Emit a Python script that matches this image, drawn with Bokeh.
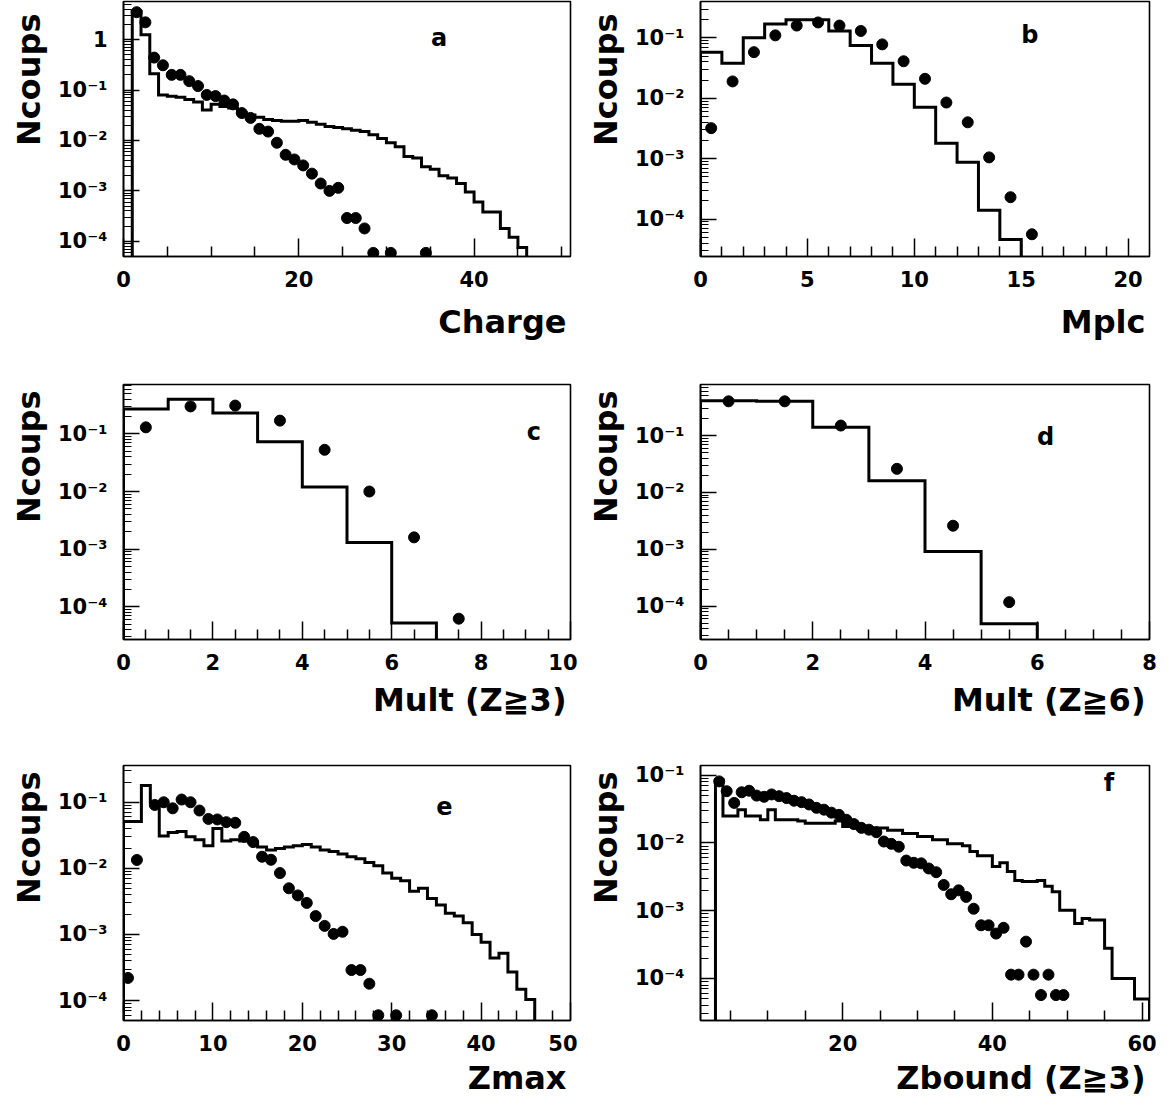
from bokeh.plotting import figure
from bokeh.models import Range1d, FixedTicker, Title, Label
from bokeh.layouts import column, row
from bokeh.embed import file_html
from bokeh.resources import INLINE

# ---------------- data ----------------
# panel a : Charge (bins of width 1 starting at 0)
a_hist = [0, 3.6, 1.25, 0.21, 0.08, 0.075, 0.072, 0.065, 0.058, 0.04, 0.052, 0.047,
          0.044, 0.036, 0.032, 0.029, 0.026, 0.025, 0.024, 0.024, 0.025, 0.023, 0.021,
          0.019, 0.018, 0.017, 0.016, 0.015, 0.013, 0.011, 0.009, 0.0075, 0.0048,
          0.0045, 0.003, 0.0027, 0.002, 0.0018, 0.0014, 0.00095, 0.0006, 0.00038,
          0.00038, 0.00018, 0.00012, 0.000075]
a_pts_x = [1.5, 2.5, 3.5, 4.5, 5.5, 6.5, 7.5, 8.5, 9.5, 10.5, 11.5, 12.5, 13.5, 14.5,
           15.5, 16.5, 17.5, 18.5, 19.5, 20.5, 21.5, 22.5, 23.5, 24.5, 25.5, 26.5,
           27.5, 28.5, 30.5, 34.5]
a_pts_y = [3.5, 2.2, 0.44, 0.31, 0.2, 0.2, 0.15, 0.12, 0.08, 0.076, 0.062, 0.052,
           0.035, 0.028, 0.017, 0.015, 0.009, 0.0052, 0.0042, 0.0032, 0.0022, 0.0014,
           0.001, 0.00115, 0.00029, 0.00029, 0.00018, 5.9e-5, 5.9e-5, 5.9e-5]

# panel b : Mplc
b_hist = [0.058, 0.038, 0.10, 0.17, 0.2, 0.2, 0.13, 0.075, 0.038, 0.017, 0.0071,
          0.0018, 0.00087, 0.00014, 4.6e-5]
b_pts_x = [0.5, 1.5, 2.5, 3.5, 4.5, 5.5, 6.5, 7.5, 8.5, 9.5, 10.5, 11.5, 12.5, 13.5,
           14.5, 15.5]
b_pts_y = [0.0032, 0.019, 0.058, 0.11, 0.16, 0.18, 0.16, 0.13, 0.078, 0.041, 0.021,
           0.0085, 0.004, 0.00105, 0.00023, 5.6e-5]

# panel c : Mult (Z>=3)
c_hist = [0.27, 0.40, 0.23, 0.073, 0.012, 0.0013, 5.2e-5]
c_pts_x = [0.5, 1.5, 2.5, 3.5, 4.5, 5.5, 6.5, 7.5]
c_pts_y = [0.13, 0.30, 0.31, 0.17, 0.053, 0.01, 0.0016, 6.2e-5]

# panel d : Mult (Z>=6)
d_hist = [0.41, 0.40, 0.14, 0.016, 0.00092, 4.9e-5]
d_pts_x = [0.5, 1.5, 2.5, 3.5, 4.5, 5.5]
d_pts_y = [0.40, 0.40, 0.15, 0.026, 0.0026, 0.000118]

# panel e : Zmax
e_hist = [0.051, 0.051, 0.18, 0.1, 0.031, 0.035, 0.036, 0.03, 0.027, 0.022, 0.040,
          0.026, 0.027, 0.026, 0.025, 0.021, 0.019, 0.020, 0.021, 0.022, 0.023, 0.021,
          0.019, 0.018, 0.0165, 0.015, 0.014, 0.0123, 0.011, 0.0085, 0.0071, 0.0065,
          0.0045, 0.005, 0.0035, 0.0028, 0.0021, 0.0019, 0.0015, 0.001, 0.00076,
          0.00044, 0.00052, 0.00027, 0.000148, 0.000104]
e_pts_x = [0.5, 1.5, 3.5, 4.5, 5.5, 6.5, 7.5, 8.5, 9.5, 10.5, 11.5, 12.5, 13.5, 14.5,
           15.5, 16.5, 17.5, 18.5, 19.5, 20.5, 21.5, 22.5, 23.5, 24.5, 25.5, 26.5,
           27.5, 28.5, 30.5, 34.5]
e_pts_y = [0.00022, 0.0134, 0.091, 0.1, 0.081, 0.11, 0.1, 0.075, 0.056, 0.055, 0.05,
           0.049, 0.03, 0.025, 0.015, 0.0135, 0.0085, 0.005, 0.0039, 0.003, 0.0019,
           0.00135, 0.00102, 0.0011, 0.00029, 0.00029, 0.00018, 6e-5, 6e-5, 6e-5]

# panel f : Zbound (Z>=3), bins of width 1 starting at 3
f_hist = [0.086, 0.025, 0.025, 0.031, 0.025, 0.025, 0.022, 0.031, 0.022, 0.022, 0.022,
          0.021, 0.0196, 0.0196, 0.0196, 0.0196, 0.021, 0.0175, 0.0175, 0.0166, 0.0166,
          0.0166, 0.0166, 0.0154, 0.0154, 0.0138, 0.0138, 0.0125, 0.0125, 0.0112,
          0.0112, 0.0097, 0.0097, 0.0091, 0.0075, 0.0065, 0.0065, 0.0045, 0.0051,
          0.0038, 0.0028, 0.0027, 0.0027, 0.0028, 0.0023, 0.0019, 0.00102, 0.00102,
          0.00065, 0.00077, 0.00073, 0.00073, 0.00028, 0.0001, 0.0001, 0.0001, 5e-5,
          5e-5]
f_pts_x = [3.5, 4.5, 5.5, 6.5, 7.5, 8.5, 9.5, 10.5, 11.5, 12.5, 13.5, 14.5, 15.5, 16.5,
           17.5, 18.5, 19.5, 20.5, 21.5, 22.5, 23.5, 24.5, 25.5, 26.5, 27.5, 28.5,
           29.5, 30.5, 31.5, 32.5, 33.5, 34.5, 35.5, 36.5, 37.5, 38.5, 39.5, 40.5,
           41.5, 42.5, 43.5, 44.5, 45.5, 46.5, 47.5, 48.5, 49.5]
f_pts_y = [0.081, 0.058, 0.039, 0.056, 0.059, 0.050, 0.048, 0.052, 0.049, 0.046, 0.042,
           0.040, 0.037, 0.033, 0.031, 0.028, 0.026, 0.022, 0.019, 0.0167, 0.0157,
           0.0144, 0.0105, 0.0097, 0.0088, 0.0055, 0.0051, 0.0050, 0.0042, 0.0037,
           0.0024, 0.00175, 0.0020, 0.0016, 0.00107, 0.00061, 0.00061, 0.00046,
           0.00056, 0.000114, 0.000114, 0.00035, 0.000114, 5.7e-5, 0.000114, 5.7e-5,
           5.7e-5]

y_tick_labels = {1.0: "1", 0.1: "10\u207b\u00b9", 0.01: "10\u207b\u00b2",
                 0.001: "10\u207b\u00b3", 0.0001: "10\u207b\u2074"}

FONT = "DejaVu Sans"


def step_path(x0, width, counts, floor=1e-9):
    xs, ys = [x0], [floor]
    for i, c in enumerate(counts):
        c = c if c > 0 else floor
        xl = x0 + i * width
        xs += [xl, xl + width]
        ys += [c, c]
    xs.append(x0 + len(counts) * width)
    ys.append(floor)
    return xs, ys


def log_minor(lo_exp, hi_exp):
    return [m * 10.0 ** k for k in range(lo_exp, hi_exp + 1) for m in range(2, 10)]


def panel(width, height, bl, br, bt, bb, xr, yr, xmaj, xminor, hist, hist_x0,
          px, py, xlabel, letter, letter_xy, title_standoff, ylab_offset):
    p = figure(width=width, height=height, x_range=Range1d(*xr), y_range=Range1d(*yr),
               y_axis_type="log", output_backend="svg", toolbar_location=None,
               min_border_left=bl, min_border_right=br, min_border_top=bt,
               min_border_bottom=bb)
    p.outline_line_color = "black"
    p.outline_line_width = 1.6
    p.xgrid.visible = False
    p.ygrid.visible = False
    p.background_fill_color = "white"

    xa = p.xaxis[0]
    xa.ticker = FixedTicker(ticks=xmaj, minor_ticks=xminor)
    xa.major_tick_in = 18
    xa.major_tick_out = 0
    xa.minor_tick_in = 10
    xa.minor_tick_out = 0
    xa.major_tick_line_width = 1.5
    xa.minor_tick_line_width = 1.5
    xa.axis_line_width = 1.6
    xa.major_label_text_font = FONT
    xa.major_label_text_font_size = "21px"
    xa.major_label_text_font_style = "bold"
    xa.major_label_text_color = "black"
    xa.major_label_standoff = 14

    ya = p.yaxis[0]
    ya.ticker = FixedTicker(ticks=[1e-4, 1e-3, 1e-2, 1e-1, 1.0],
                            minor_ticks=log_minor(-5, 1))
    ya.major_label_overrides = y_tick_labels
    ya.major_tick_in = 16
    ya.major_tick_out = 0
    ya.minor_tick_in = 8
    ya.minor_tick_out = 0
    ya.major_tick_line_width = 1.5
    ya.minor_tick_line_width = 1.2
    ya.axis_line_width = 1.6
    ya.major_label_text_font = FONT
    ya.major_label_text_font_size = "21px"
    ya.major_label_text_font_style = "bold"
    ya.major_label_text_color = "black"
    ya.major_label_standoff = 16
    ya.major_label_orientation = "horizontal"

    hx, hy = step_path(hist_x0, 1, hist)
    p.line(hx, hy, line_width=3, line_color="black", line_join="miter")
    p.scatter(px, py, marker="circle", size=11, fill_color="black", line_color="black")

    p.add_layout(Label(x=letter_xy[0], y=letter_xy[1], text=letter,
                       text_font=FONT, text_font_size="24px", text_font_style="bold",
                       text_color="black", text_align="center", text_baseline="middle"))
    p.add_layout(Title(text=xlabel, align="right", text_font=FONT,
                       text_font_size="32px", text_font_style="bold",
                       text_color="black", standoff=title_standoff, offset=4),
                 "below")
    p.add_layout(Title(text="Ncoups", align="right", text_font=FONT,
                       text_font_size="32px", text_font_style="bold",
                       text_color="black", standoff=14, offset=ylab_offset), "left")
    return p


W1, W2 = 577, 582
pa = panel(W1, 360, 120, 7, 1, 104, (0, 51), (5.0e-5, 5.7), [0, 20, 40],
           [5, 10, 15, 25, 30, 35, 45, 50], a_hist, 0, a_pts_x, a_pts_y,
           "Charge", "a", (36, 1.1), 22, 12)
pb = panel(W2, 360, 121, 10, 1, 104, (0, 21), (2.4e-5, 0.40), [0, 5, 10, 15, 20],
           [i for i in range(1, 21) if i % 5], b_hist, 0, b_pts_x, b_pts_y,
           "Mplc", "b", (15.4, 0.11), 22, 12)
pc = panel(W1, 375, 120, 7, 24, 96, (0, 10), (2.7e-5, 0.72), [0, 2, 4, 6, 8, 10],
           [i / 2 for i in range(1, 20) if i % 4], c_hist, 0, c_pts_x, c_pts_y,
           "Mult (Z\u22673)", "c", (9.18, 0.11), 12, 6)
pd = panel(W2, 375, 121, 10, 24, 96, (0, 8), (2.6e-5, 0.79), [0, 2, 4, 6, 8],
           [i / 2 for i in range(1, 16) if i % 4], d_hist, 0, d_pts_x, d_pts_y,
           "Mult (Z\u22676)", "d", (6.15, 0.093), 12, 6)
pe = panel(W1, 366, 120, 7, 30, 81, (0, 50), (5.0e-5, 0.36), [0, 10, 20, 30, 40, 50],
           [i for i in range(2, 50, 2) if i % 10], e_hist, 0, e_pts_x, e_pts_y,
           "Zmax", "e", (35.9, 0.087), 6, 6)
pf = panel(W2, 366, 121, 10, 30, 81, (1, 61), (2.4e-5, 0.139), [20, 40, 60],
           [i for i in range(5, 61, 5) if i % 20], f_hist, 3, f_pts_x, f_pts_y,
           "Zbound (Z\u22673)", "f", (55.6, 0.077), 6, 6)

layout = column(row(pa, pb), row(pc, pd), row(pe, pf))
open("out.html", "w").write(file_html(layout, INLINE))
